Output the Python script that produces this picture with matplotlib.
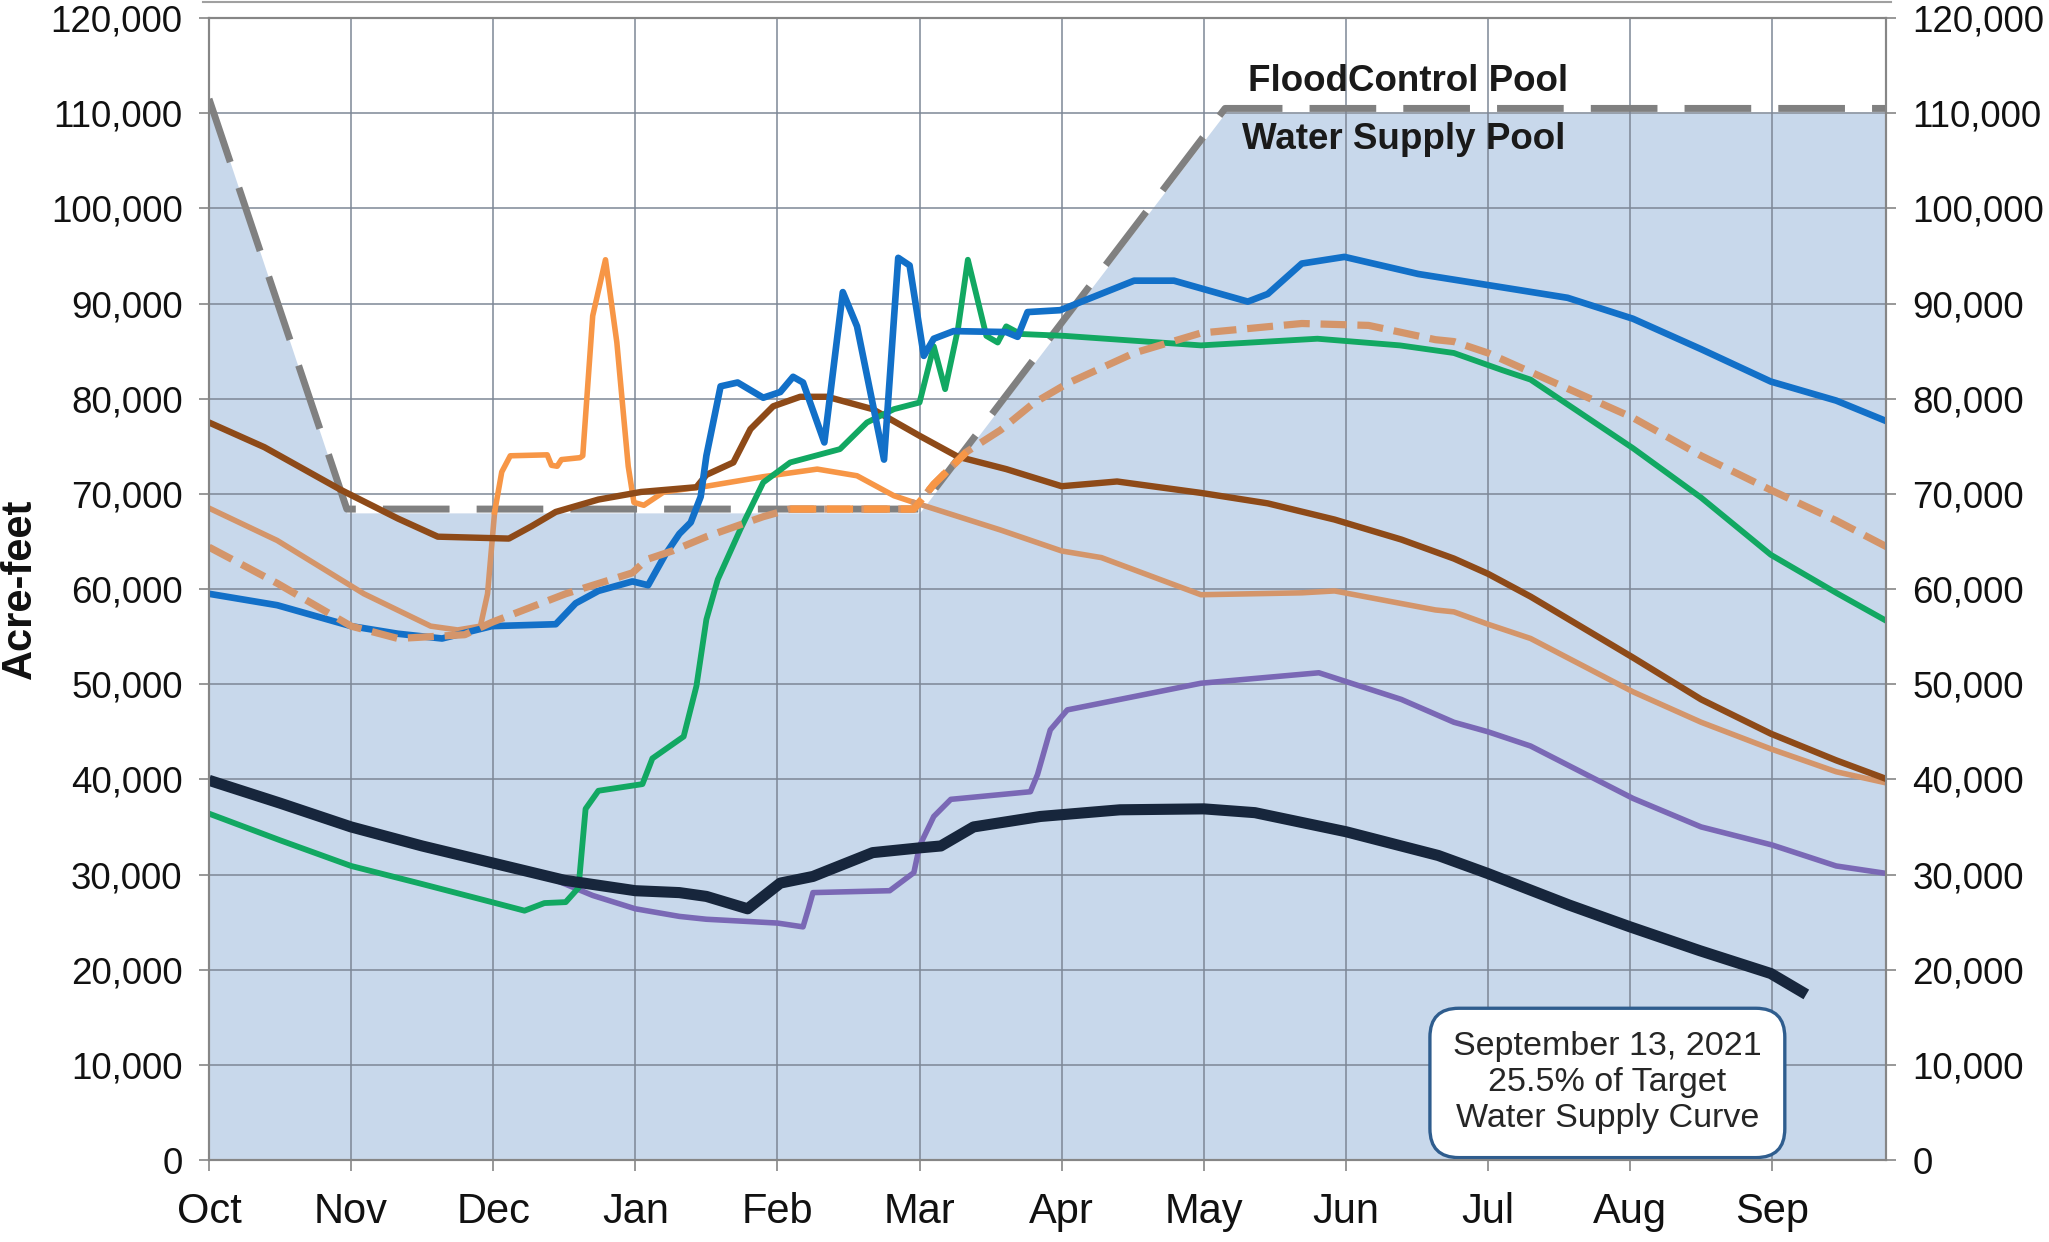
import matplotlib
matplotlib.use('Agg')
import matplotlib.pyplot as plt
from matplotlib.ticker import FuncFormatter
import numpy as np

plt.rcParams['font.family'] = ['Liberation Sans', 'DejaVu Sans']

# x values are months since Oct 1 (0 = Oct, 1 = Nov, ...)
months = ['Oct', 'Nov', 'Dec', 'Jan', 'Feb', 'Mar', 'Apr', 'May', 'Jun', 'Jul', 'Aug', 'Sep']

# flood control / water supply pool boundary
pool_x = [0, 0.97, 5.0, 7.15, 11.8]
pool_fill_y = [111500, 68000, 68000, 110000, 110000]
pool_line_y = [111500, 68400, 68400, 110500, 110500]

# current year (2021)
cur_x = [0, 0.5, 1.0, 1.5, 2.0, 2.5, 3.0, 3.31, 3.5, 3.79, 4.02, 4.25, 4.67, 5.0, 5.15, 5.38,
         5.85, 6.41, 7.0, 7.36, 8.0, 8.65, 9.0, 9.57, 10.0, 10.49, 10.99, 11.24]
cur_y = [39900, 37500, 35000, 33000, 31200, 29400, 28300, 28100, 27700, 26400, 29100, 29800,
         32300, 32800, 33000, 35000, 36100, 36800, 36900, 36500, 34500, 32000, 30100, 26800,
         24500, 22000, 19600, 17400]

purple_x = [0, 0.5, 1.0, 1.5, 2.0, 2.41, 2.7, 3.0, 3.31, 3.5, 4.0, 4.18, 4.22, 4.25, 4.79, 4.96,
            5.0, 5.1, 5.22, 5.78, 5.83, 5.92, 6.04, 6.98, 7.81, 8.39, 8.76, 9.0, 9.3, 10.02,
            10.5, 11.0, 11.45, 11.81]
purple_y = [39900, 37500, 35000, 33000, 31200, 29600, 27800, 26400, 25600, 25300, 24900, 24500,
            26500, 28100, 28300, 30200, 33000, 36100, 37900, 38700, 40500, 45200, 47300, 50100,
            51200, 48400, 46000, 45000, 43500, 38000, 35000, 33100, 30900, 30100]

green_x = [0, 0.5, 1.0, 1.5, 1.99, 2.22, 2.36, 2.51, 2.6, 2.65, 2.74, 3.05, 3.12, 3.34, 3.43,
           3.5, 3.58, 3.74, 3.9, 4.09, 4.44, 4.63, 4.82, 5.0, 5.1, 5.18, 5.27, 5.34, 5.47, 5.55,
           5.61, 5.71, 6.02, 6.98, 7.8, 8.38, 8.76, 9.1, 9.3, 10.02, 10.5, 10.99, 11.45, 11.81]
green_y = [36400, 33600, 30900, 29000, 27100, 26200, 27000, 27100, 28600, 36900, 38800, 39500,
           42200, 44500, 49800, 56800, 61000, 66300, 71200, 73300, 74700, 77500, 78900, 79600,
           85500, 81000, 87300, 94600, 86600, 85900, 87600, 86800, 86600, 85600, 86300, 85600,
           84800, 83000, 82000, 74800, 69600, 63600, 59600, 56600]

blue_x = [0, 0.48, 1.0, 1.33, 1.64, 1.99, 2.44, 2.58, 2.74, 2.98, 3.09, 3.21, 3.31, 3.39, 3.46,
          3.5, 3.6, 3.72, 3.9, 4.02, 4.11, 4.18, 4.33, 4.46, 4.56, 4.75, 4.85, 4.93, 5.03, 5.1,
          5.24, 5.61, 5.69, 5.76, 5.99, 6.51, 6.79, 7.31, 7.45, 7.69, 7.99, 8.51, 9.1, 9.56,
          10.02, 10.5, 10.99, 11.45, 11.81]
blue_y = [59500, 58300, 56100, 55300, 54800, 56100, 56300, 58500, 59800, 60800, 60400, 63600,
          65800, 67000, 69700, 74000, 81300, 81700, 80100, 80700, 82300, 81700, 75400, 91200,
          87600, 73600, 94800, 94000, 84500, 86300, 87100, 87000, 86500, 89100, 89300, 92400,
          92400, 90200, 91000, 94200, 94900, 93100, 91700, 90600, 88400, 85200, 81800, 79800,
          77600]

brown_x = [0, 0.39, 0.93, 1.33, 1.61, 2.11, 2.27, 2.44, 2.74, 3.04, 3.43, 3.5, 3.69, 3.81,
           3.97, 4.16, 4.35, 4.67, 5.0, 5.27, 5.61, 6.0, 6.39, 6.98, 7.45, 7.92, 8.39, 8.76,
           9.0, 9.3, 10.02, 10.5, 10.99, 11.45, 11.81]
brown_y = [77500, 74900, 70400, 67400, 65500, 65300, 66600, 68100, 69400, 70200, 70700, 72000,
           73300, 76800, 79200, 80200, 80200, 78900, 76100, 73900, 72600, 70800, 71300, 70100,
           69000, 67300, 65200, 63200, 61600, 59200, 52800, 48400, 44800, 42000, 40000]

# tan year, orange while it sits in the Dec-Mar window
tan_x = [0, 0.48, 1.09, 1.56, 1.75, 1.91, 1.96, 2.01, 2.06, 2.12, 2.38, 2.41, 2.45, 2.48, 2.61,
         2.63, 2.70, 2.79, 2.87, 2.95, 2.99, 3.06, 3.2, 3.5, 3.9, 4.28, 4.56, 4.82, 4.96, 5.57,
         6.0, 6.28, 6.98, 7.69, 7.92, 8.63, 8.76, 9.0, 9.3, 10.02, 10.5, 10.99, 11.45, 11.81]
tan_y = [68500, 65100, 59500, 56100, 55700, 56100, 59500, 68100, 72300, 74000, 74100, 73000,
         72900, 73600, 73800, 74000, 88700, 94600, 85900, 72900, 69100, 68800, 70200, 70800,
         71800, 72600, 71900, 69800, 69100, 66200, 64000, 63300, 59400, 59600, 59800, 57800,
         57600, 56300, 54800, 49200, 46000, 43200, 40800, 39600]

# target water supply curve (dashed)
target_x = [0, 0.48, 1.0, 1.33, 1.8, 1.99, 2.51, 2.98, 3.08, 3.26, 3.5, 3.9, 4.09, 4.5, 4.96,
            5.1, 5.33, 5.57, 5.8, 6.04, 6.51, 6.98, 7.69, 8.16, 8.63, 8.76, 9.0, 9.3, 10.02,
            10.5, 10.99, 11.45, 11.81]
target_y = [64400, 60600, 56100, 54800, 55200, 56500, 59500, 61700, 63100, 64000, 65500, 67600,
            68400, 68400, 68400, 71000, 74400, 76700, 79500, 81600, 84800, 86900, 87900, 87700,
            86200, 86000, 84800, 82800, 78000, 74000, 70400, 67200, 64400]

note_text = 'September 13, 2021\n25.5% of Target\nWater Supply Curve'

TAN = '#D4956A'
ORANGE = '#F79646'

fig = plt.figure(figsize=(20.49, 12.42), dpi=100)
ax = fig.add_axes([0.102, 0.066, 0.8184, 0.9195])

ax.fill_between(pool_x, 0, pool_fill_y, color='#C8D8EB', lw=0, zorder=1)
ax.plot(pool_x, pool_line_y, color='#808080', lw=5, dashes=(9.6, 3.9), zorder=2)

tx = np.array(tan_x)
ty = np.array(tan_y)
for m, c in [(tx <= 2.01, TAN), ((tx >= 2.01) & (tx <= 4.96), ORANGE), (tx >= 4.96, TAN)]:
    ax.plot(tx[m], ty[m], color=c, lw=4.0, zorder=2.2, solid_joinstyle='round')

ax.plot(brown_x, brown_y, color='#8E4A18', lw=4.6, zorder=2.3, solid_joinstyle='round')
ax.plot(purple_x, purple_y, color='#7A68B5', lw=4.0, zorder=2.4, solid_joinstyle='round')
ax.plot(green_x, green_y, color='#12A862', lw=4.2, zorder=2.5, solid_joinstyle='round')
ax.plot(blue_x, blue_y, color='#1270C8', lw=4.8, zorder=2.6, solid_joinstyle='round')

gx = np.array(target_x)
gy = np.array(target_y)
ax.plot(gx, gy, color=TAN, lw=5.2, dashes=(3.6, 1.5), zorder=2.7)
seg = (gx >= 4.0) & (gx <= 5.33)
ax.plot(gx[seg], gy[seg], color=ORANGE, lw=5.2, dashes=(3.6, 1.5), zorder=2.75)

ax.plot(cur_x, cur_y, color='#17263C', lw=8, zorder=3, solid_capstyle='butt',
        solid_joinstyle='round')

ax.set_xlim(0, 11.8)
ax.set_ylim(0, 120000)
ax.set_xticks(range(len(months)))
ax.set_xticklabels(months)
yt = list(range(0, 120001, 10000))
fmt = FuncFormatter(lambda v, p: '{:,.0f}'.format(v))
ax.set_yticks(yt)
ax.yaxis.set_major_formatter(fmt)

ax.set_axisbelow('line')
ax.grid(True, color='#7D8796', lw=1.1)

for s in ax.spines.values():
    s.set_color('#868686')
    s.set_linewidth(1.5)

ax.tick_params(axis='y', length=7, width=1.2, color='#868686', pad=12, labelsize=26.5,
               labelcolor='#111111')
ax.tick_params(axis='x', length=8, width=1.2, color='#868686', pad=15, labelsize=30,
               labelcolor='#111111')

ax2 = ax.twinx()
ax2.set_ylim(0, 120000)
ax2.set_yticks(yt)
ax2.yaxis.set_major_formatter(fmt)
ax2.tick_params(axis='y', length=7, width=1.2, color='#868686', pad=12, labelsize=26.5,
                labelcolor='#111111')
for s in ax2.spines.values():
    s.set_color('#868686')
    s.set_linewidth(1.5)

ax.text(7.31, 113300, 'FloodControl Pool', fontsize=26.5, fontweight='bold', ha='left',
        va='center', color='#1A1A1A', zorder=4)
ax.text(7.27, 107200, 'Water Supply Pool', fontsize=26.5, fontweight='bold', ha='left',
        va='center', color='#1A1A1A', zorder=4)

ax.text(9.84, 8100, note_text, ha='center', va='center', fontsize=24.5, linespacing=1.21,
        color='#262626', zorder=5,
        bbox=dict(boxstyle='round,pad=0.68,rounding_size=0.85', fc='white', ec='#2F5D8E', lw=2.4))

fig.text(0.0096, 0.526, 'Acre-feet', rotation=90, fontsize=30, fontweight='bold',
         ha='center', va='center', color='#111111')

fig.add_artist(plt.Line2D([0.099, 0.923], [0.998, 0.998], transform=fig.transFigure,
                          color='#A0A0A0', lw=1.5))

fig.savefig('out.png', dpi=100)
